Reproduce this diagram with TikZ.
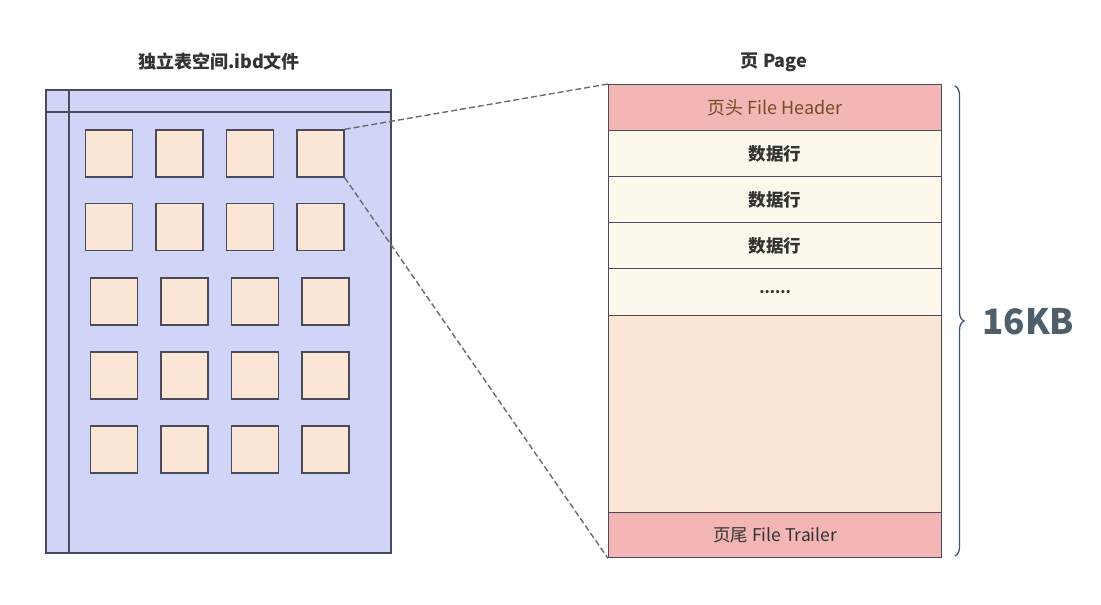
\documentclass[tikz,border=0pt]{standalone}
\usepackage{fontspec}
\setmainfont{Noto Sans CJK SC}
\usetikzlibrary{decorations.pathreplacing,calc}
\definecolor{filebg}{HTML}{D0D4F6}
\definecolor{sqfill}{HTML}{FBE6D6}
\definecolor{hdfill}{HTML}{F4B5B5}
\definecolor{rowfill}{HTML}{FDF8EC}
\definecolor{edge}{HTML}{4A4A5A}
\definecolor{txt}{HTML}{333333}
\definecolor{kb}{HTML}{4F5E6B}
\definecolor{bracec}{HTML}{3F5670}
\tikzset{
  sq/.style={draw=edge, line width=1.4pt, fill=sqfill, minimum width=47pt, minimum height=47pt, inner sep=0pt},
  pagerow/.style={draw=edge, line width=1.4pt, fill=rowfill, minimum width=333pt, inner sep=0pt},
  conn/.style={draw=gray!85!black, line width=1.4pt, dash pattern=on 6pt off 3pt},
  ttl/.style={font=\bfseries\fontsize{18}{21}\selectfont, text=txt},
  rowtxt/.style={font=\bfseries\fontsize{17.5}{20}\selectfont, text=txt}
}
\begin{document}
\begin{tikzpicture}[x=1pt,y=-1pt]
\useasboundingbox[fill=white] (0,0) rectangle (1101,605);
% left file
\node[ttl] (ftitle) at (219,62) {独立表空间.ibd文件};
\filldraw[draw=edge, line width=1.4pt, fill=filebg] (46,90) rectangle (391,553);
\draw[edge, line width=1.4pt] (69,90) -- (69,553);
\draw[edge, line width=1.4pt] (46,112) -- (391,112);
% squares
\foreach \r/\y/\dx in {1/153.5/0, 2/227/0, 3/301.5/5, 4/375.5/5, 5/449.5/5}{
  \foreach \c/\x in {1/109, 2/179.5, 3/250, 4/320.5}{
    \node[sq] (s\r\c) at ({\x+\dx},\y) {};
  }
}
% page
\node[ttl] (ptitle) at (774,62) {页 Page};
\node[pagerow, fill=hdfill, minimum height=46pt, anchor=north west, font=\fontsize{18}{21}\selectfont, text=brown!60!black] (hdr) at (608,84) {页头 File Header};
\node[pagerow, minimum height=46pt, anchor=north west, rowtxt] (r1) at (608,130) {数据行};
\node[pagerow, minimum height=46pt, anchor=north west, rowtxt] (r2) at (608,176) {数据行};
\node[pagerow, minimum height=46pt, anchor=north west, rowtxt] (r3) at (608,222) {数据行};
\node[pagerow, minimum height=47pt, anchor=north west, font=\bfseries\fontsize{15}{17}\selectfont, text=txt] (r4) at (608,268) {......};
\node[pagerow, fill=sqfill, minimum height=197pt, anchor=north west] (free) at (608,315) {};
\node[pagerow, fill=hdfill, minimum height=45pt, anchor=north west, font=\fontsize{17.5}{20}\selectfont, text=txt] (trl) at (608,512) {页尾 File Trailer};
% connectors
\draw[conn] (s14.north east) -- (hdr.north west);
\draw[conn] (s14.south east) -- (trl.south west);
% brace
\coordinate (bt) at (955,86);
\coordinate (bb) at (955,556);
\draw[bracec, line width=1.3pt, decorate, decoration={brace, amplitude=9pt, raise=0pt}] (bt) -- (bb);
\node[font=\bfseries\fontsize{35}{40}\selectfont, text=kb, anchor=west] (kb) at (979,322) {16KB};
\end{tikzpicture}
\end{document}
